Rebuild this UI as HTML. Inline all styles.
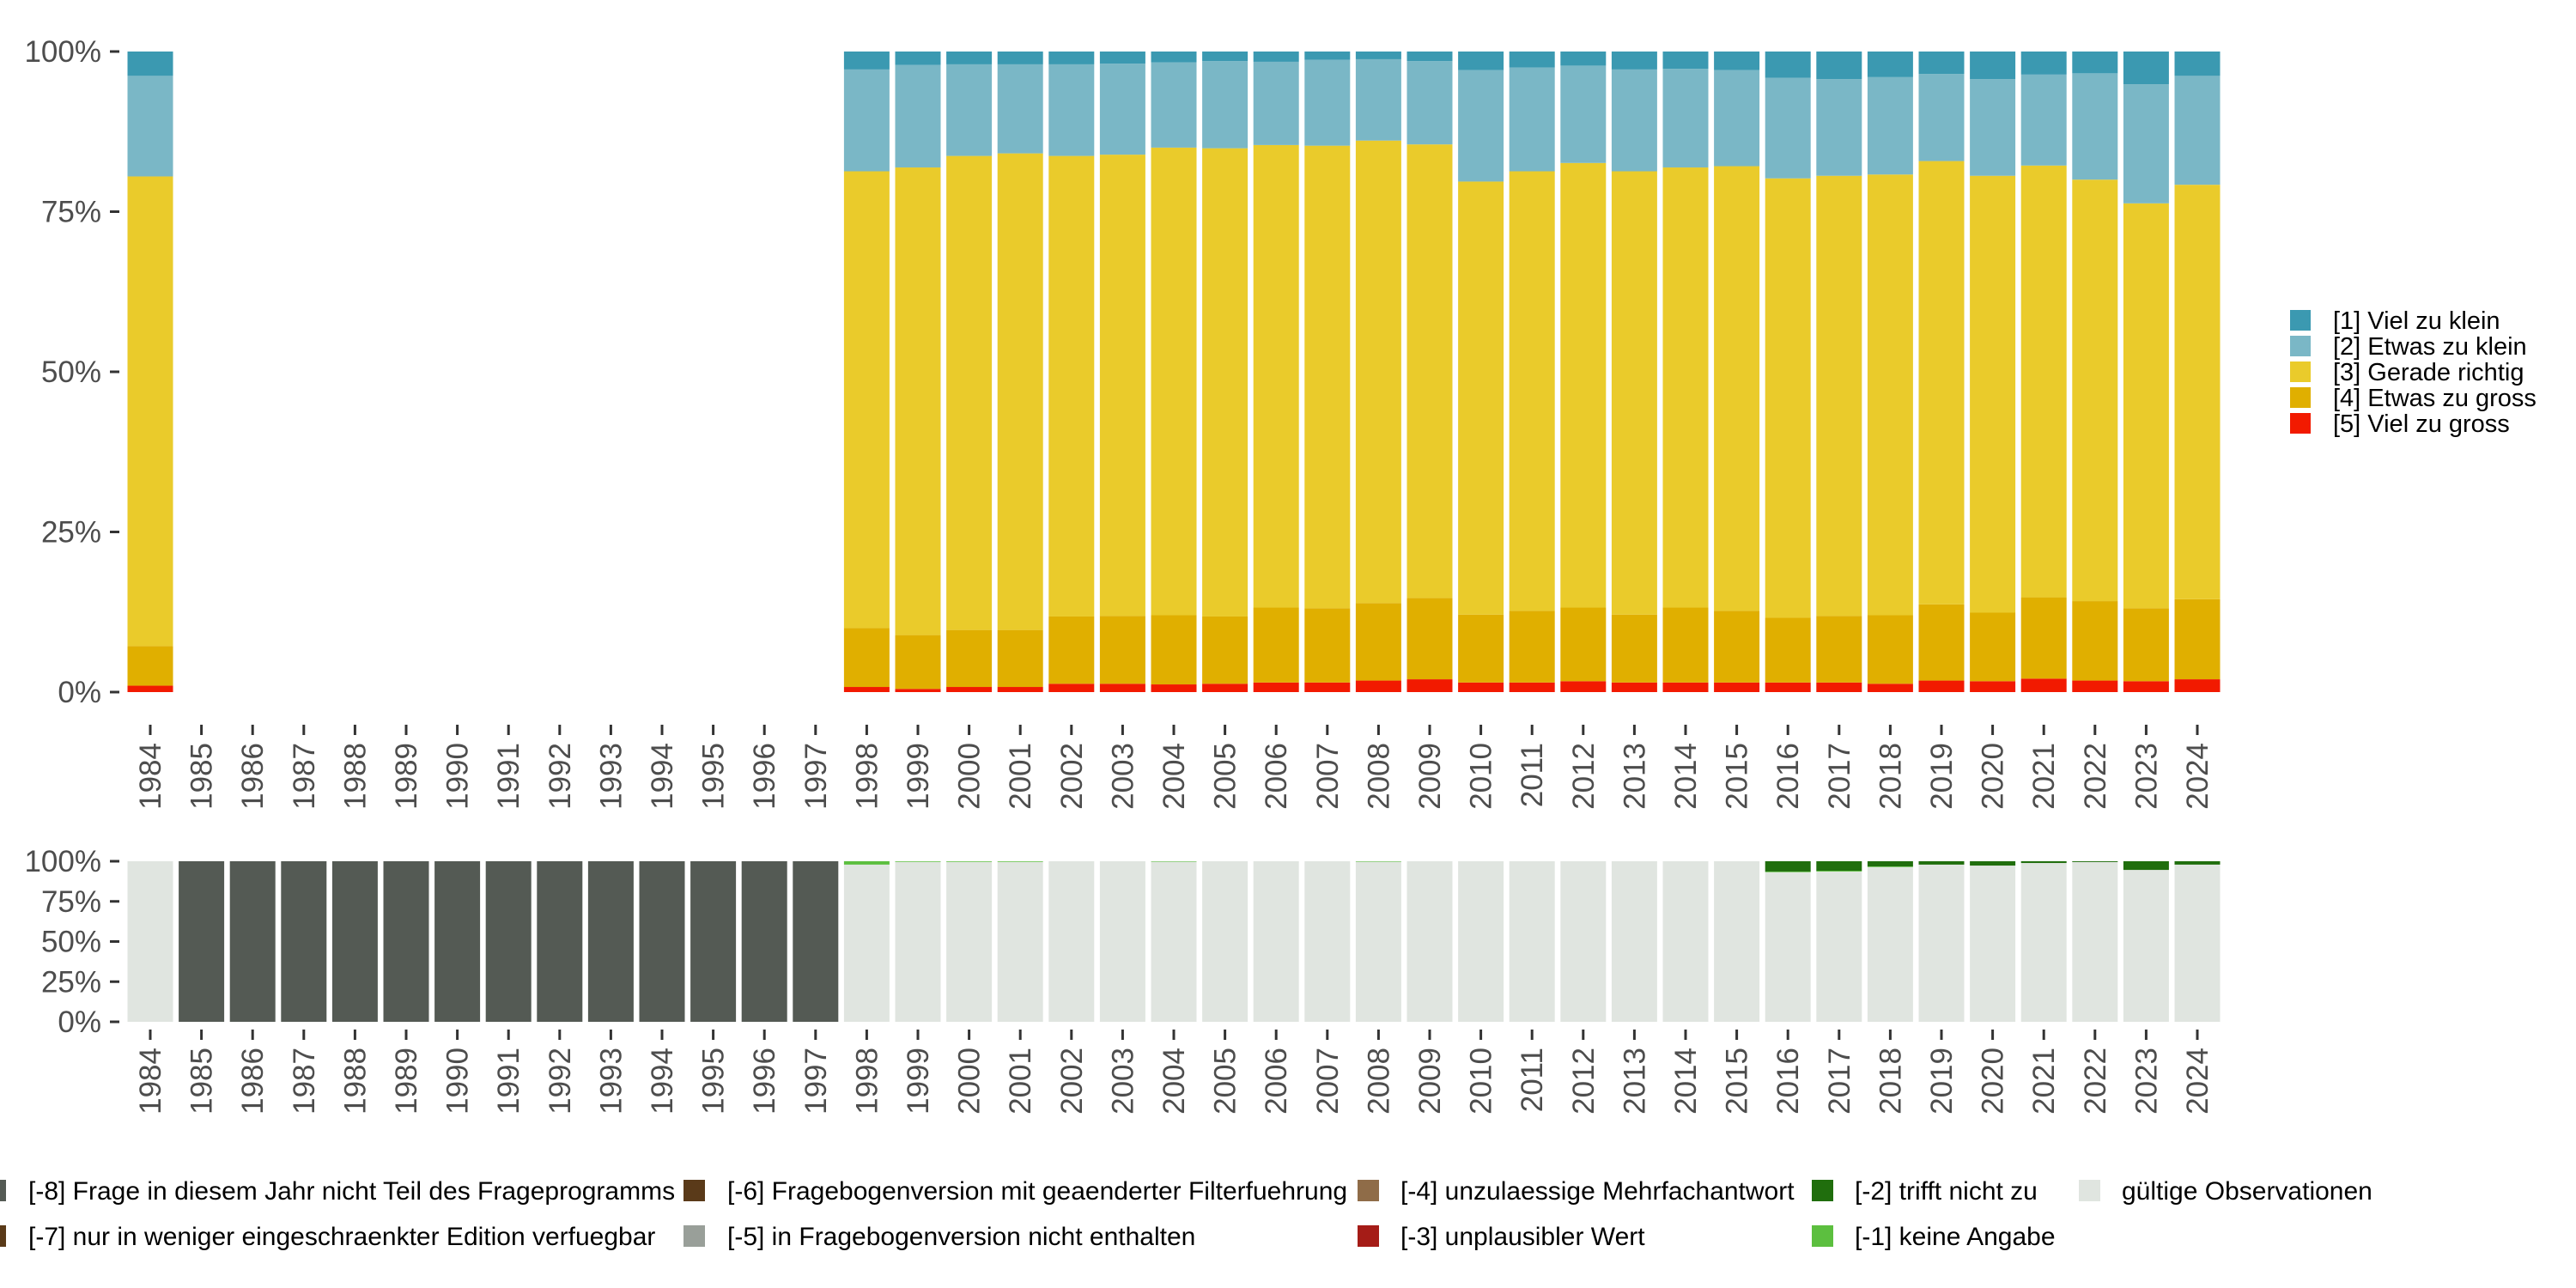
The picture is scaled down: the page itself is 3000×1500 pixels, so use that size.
<!DOCTYPE html>
<html><head><meta charset="utf-8">
<style>
html,body{margin:0;padding:0;background:#fff;}
svg{display:block;font-family:"Liberation Sans",sans-serif;}
</style></head>
<body>
<svg id="chart" width="3000" height="1500" viewBox="0 0 3000 1500" xmlns="http://www.w3.org/2000/svg">
<g id="topPanel"></g>
<g id="botPanel"></g>
</svg>
<script>
const years = [];
for (let y = 1984; y <= 2024; y++) years.push(y);
// top panel: data years and per-category shares (%)
const dataYears = [1984,1998,1999,2000,2001,2002,2003,2004,2005,2006,2007,2008,2009,2010,2011,2012,2013,2014,2015,2016,2017,2018,2019,2020,2021,2022,2023,2024];
const vielZuGross   = [1.0,0.8,0.5,0.8,0.8,1.3,1.3,1.2,1.3,1.5,1.5,1.8,2.0,1.5,1.5,1.7,1.5,1.5,1.5,1.5,1.5,1.3,1.8,1.7,2.1,1.8,1.7,2.0];
const etwasZuGross  = [6.2,9.2,8.4,8.9,8.9,10.5,10.6,10.8,10.5,11.7,11.6,12.1,12.7,10.6,11.2,11.5,10.6,11.7,11.2,10.1,10.4,10.7,11.9,10.7,12.7,12.4,11.4,12.5];
const geradeRichtig = [73.3,71.3,73.0,74.0,74.4,71.9,72.0,73.0,73.1,72.2,72.2,72.2,70.8,67.6,68.6,69.4,69.2,68.7,69.4,68.6,68.7,68.8,69.2,68.2,67.4,65.8,63.2,64.7];
const etwasZuKlein  = [15.7,15.9,16.0,14.3,13.9,14.3,14.2,13.3,13.6,13.0,13.4,12.7,13.0,17.4,16.2,15.2,15.9,15.4,15.0,15.7,15.1,15.2,13.6,15.1,14.2,16.6,18.6,17.0];
const vielZuKlein   = [3.8,2.8,2.1,2.0,2.0,2.0,1.9,1.7,1.5,1.6,1.3,1.2,1.5,2.9,2.5,2.2,2.8,2.7,2.9,4.1,4.3,4.0,3.5,4.3,3.6,3.4,5.1,3.8];
const yTicks = [0,25,50,75,100];
const yTickLabels = ["0%","25%","50%","75%","100%"];
// bottom panel (%)
const notInProgram = [0,100,100,100,100,100,100,100,100,100,100,100,100,100,0,0,0,0,0,0,0,0,0,0,0,0,0,0,0,0,0,0,0,0,0,0,0,0,0,0,0];
const keineAngabe  = [0,0,0,0,0,0,0,0,0,0,0,0,0,0,2.1,0.4,0.4,0.4,0,0,0.3,0,0,0,0.3,0,0,0,0,0,0,0,0.4,0.5,0.4,0,0,0,0,0,0];
const trifftNicht  = [0,0,0,0,0,0,0,0,0,0,0,0,0,0,0,0,0,0,0,0,0,0,0,0,0,0,0,0,0,0,0,0,6.4,5.9,3.2,2.1,2.7,1.1,0.5,5.4,2.1];

const NS="http://www.w3.org/2000/svg";
function mk(parent, tag, attrs){const e=document.createElementNS(NS,tag);for(const k in attrs)e.setAttribute(k,attrs[k]);parent.appendChild(e);return e;}
const x0=175, step=59.6, bw=53;
function xc(i){return x0+step*i;}
function yTop(v){return 806-v*7.46;}
function yBot(v){return 1190-v*1.87;}

function axes(g, yf, tickY0, labY){
  yTicks.forEach((t,i)=>{
    const tk=mk(g,'line',{x1:128,x2:139,y1:yf(t),y2:yf(t),stroke:'#333',"stroke-width":3});
    
    
    const tx=mk(g,'text',{x:118,y:yf(t)+12,"text-anchor":"end","font-size":35,fill:'#4d4d4d'});
    tx.textContent=yTickLabels[i];
    
    
  });
  years.forEach((yr,i)=>{
    const tk=mk(g,'line',{x1:xc(i),x2:xc(i),y1:tickY0,y2:tickY0+12,stroke:'#333',"stroke-width":3});
    
    
    const tx=mk(g,'text',{transform:`translate(${xc(i)+12},${labY}) rotate(-90)`,"text-anchor":"end","font-size":35,fill:'#4d4d4d'});
    tx.textContent=String(yr);
    
    
  });
}

const topG=document.getElementById('topPanel');
const topSeries=[[vielZuGross,'#f21a00','bar-viel-zu-gross'],[etwasZuGross,'#e0af00','bar-etwas-zu-gross'],[geradeRichtig,'#eacb2b','bar-gerade-richtig'],[etwasZuKlein,'#7ab7c6','bar-etwas-zu-klein'],[vielZuKlein,'#3b99b1','bar-viel-zu-klein']];
dataYears.forEach((yr,j)=>{
  const i=years.indexOf(yr);let cum=0;
  topSeries.forEach(([arr,col,name])=>{
    const v=arr[j];
    const r=mk(topG,'rect',{x:xc(i)-bw/2,y:yTop(cum+v),width:bw,height:yTop(cum)-yTop(cum+v),fill:col});
    
    
    cum+=v;
  });
});
axes(topG,yTop,844,865);

const botG=document.getElementById('botPanel');
years.forEach((yr,i)=>{
  const parts=[[100-notInProgram[i]-keineAngabe[i]-trifftNicht[i],'#e0e5e0','bar-gueltig'],[keineAngabe[i],'#5cbf3f','bar-keine-angabe'],[trifftNicht[i],'#206e0d','bar-trifft-nicht-zu'],[notInProgram[i],'#545a54','bar-nicht-im-programm']];
  let cum=0;
  parts.forEach(([v,col,name])=>{
    if(v<=0)return;
    const r=mk(botG,'rect',{x:xc(i)-bw/2,y:yBot(cum+v),width:bw,height:yBot(cum)-yBot(cum+v),fill:col});
    
    
    cum+=v;
  });
});
axes(botG,yBot,1199,1220);
</script>
<svg style="position:absolute;left:0;top:0" width="3000" height="1500">
  <g font-family="Liberation Sans, sans-serif" font-size="29" fill="#000">
    <rect x="2667" y="361" width="24" height="24" fill="#3b99b1"/>
    <text x="2717" y="383">[1] Viel zu klein</text>
    <rect x="2667" y="391" width="24" height="24" fill="#7ab7c6"/>
    <text x="2717" y="413">[2] Etwas zu klein</text>
    <rect x="2667" y="421" width="24" height="24" fill="#eacb2b"/>
    <text x="2717" y="443">[3] Gerade richtig</text>
    <rect x="2667" y="451" width="24" height="24" fill="#e0af00"/>
    <text x="2717" y="473">[4] Etwas zu gross</text>
    <rect x="2667" y="481" width="24" height="24" fill="#f21a00"/>
    <text x="2717" y="503">[5] Viel zu gross</text>
  </g>
  <g font-family="Liberation Sans, sans-serif" font-size="30" fill="#000">
    <rect x="-18" y="1374" width="25" height="25" fill="#545a54"/>
    <text x="33" y="1397">[-8] Frage in diesem Jahr nicht Teil des Frageprogramms</text>
    <rect x="-18" y="1427" width="25" height="25" fill="#5a3a19"/>
    <text x="33" y="1450">[-7] nur in weniger eingeschraenkter Edition verfuegbar</text>
    <rect x="796" y="1374" width="25" height="25" fill="#5a3a19"/>
    <text x="847" y="1397">[-6] Fragebogenversion mit geaenderter Filterfuehrung</text>
    <rect x="796" y="1427" width="25" height="25" fill="#999f99"/>
    <text x="847" y="1450">[-5] in Fragebogenversion nicht enthalten</text>
    <rect x="1581" y="1374" width="25" height="25" fill="#8f6c48"/>
    <text x="1631" y="1397">[-4] unzulaessige Mehrfachantwort</text>
    <rect x="1581" y="1427" width="25" height="25" fill="#a51c17"/>
    <text x="1631" y="1450">[-3] unplausibler Wert</text>
    <rect x="2110" y="1374" width="25" height="25" fill="#206e0d"/>
    <text x="2160" y="1397">[-2] trifft nicht zu</text>
    <rect x="2110" y="1427" width="25" height="25" fill="#5cbf3f"/>
    <text x="2160" y="1450">[-1] keine Angabe</text>
    <rect x="2421" y="1374" width="25" height="25" fill="#e0e5e0"/>
    <text x="2471" y="1397">gültige Observationen</text>
  </g>
</svg>
</body></html>
